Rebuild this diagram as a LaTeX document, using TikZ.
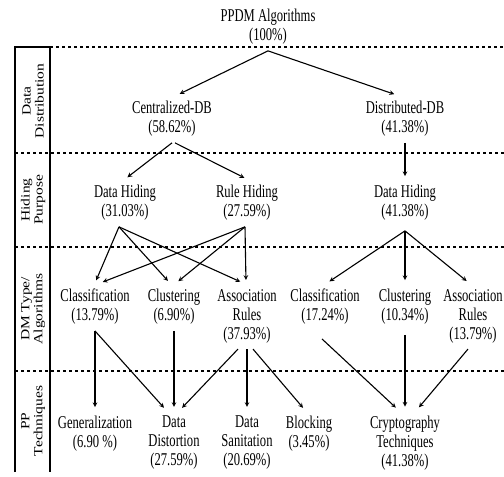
\documentclass[tikz,border=0pt]{standalone}
\usepackage{fontspec}
\setmainfont{Liberation Serif}[FakeStretch=0.7]
\newfontfamily\tierfont{Liberation Serif}[FakeStretch=1.24]
\usetikzlibrary{arrows}
\begin{document}
\fontsize{18pt}{19pt}\selectfont
\begin{tikzpicture}[x=1pt, y=-1pt,
    algo/.style={align=center, inner xsep=2pt, inner ysep=6pt},
    tier/.style={rotate=90, align=center, font=\tierfont\fontsize{12.5pt}{13pt}\selectfont},
    link/.style={->, >=stealth, line width=1.1pt, shorten >=3pt},
    level/.style={dashed, line width=1.1pt}]
    \useasboundingbox (0,0) rectangle (504,477);
    % levels
    \draw[line width=1.1pt] (15,472) -- (15,47) -- (50,47) -- (50,472);
    \draw[level] (50,47) -- (504,47);
    \draw[level] (15,153) -- (504,153);
    \draw[level] (15,247) -- (504,247);
    \draw[level] (15,371) -- (504,371);
    \node[tier] (tdist) at (33,101) {Data\\Distribution};
    \node[tier] (thide) at (33,200) {Hiding\\Purpose};
    \node[tier] (tdm) at (33,309) {DM Type/\\Algorithms};
    \node[tier] (tpp) at (33,421) {PP\\Techniques};
    % nodes
    \node[algo] (ppdm) at (268,27) {PPDM Algorithms\\(100\%)};
    \node[algo] (cdb) at (172,119) {Centralized-DB\\(58.62\%)};
    \node[algo] (ddb) at (405,119) {Distributed-DB\\(41.38\%)};
    \node[algo] (dh) at (125,203) {Data Hiding\\(31.03\%)};
    \node[algo] (rh) at (247,203) {Rule Hiding\\(27.59\%)};
    \node[algo] (ddh) at (405,203) {Data Hiding\\(41.38\%)};
    \node[algo] (cls) at (95,307) {Classification\\(13.79\%)};
    \node[algo] (clu) at (174,307) {Clustering\\(6.90\%)};
    \node[algo] (asr) at (247,316) {Association\\Rules\\(37.93\%)};
    \node[algo] (dcls) at (325,307) {Classification\\(17.24\%)};
    \node[algo] (dclu) at (405,307) {Clustering\\(10.34\%)};
    \node[algo] (dasr) at (473,316) {Association\\Rules\\(13.79\%)};
    \node[algo] (gen) at (95,434) {Generalization\\(6.90 \%)};
    \node[algo] (dist) at (174,443) {Data\\Distortion\\(27.59\%)};
    \node[algo] (san) at (247,443) {Data\\Sanitation\\(20.69\%)};
    \node[algo] (blk) at (309,434) {Blocking\\(3.45\%)};
    \node[algo] (cry) at (405,443) {Cryptography\\Techniques\\(41.38\%)};
    % links
    \draw[link] (ppdm.south) -- ([xshift=5pt]cdb.north);
    \draw[link] (ppdm.south) -- ([xshift=-8pt]ddb.north);
    \draw[link] (cdb.south) -- (dh.north);
    \draw[link] ([xshift=3pt]cdb.south) -- (rh.north);
    \draw[link] (ddb.south) -- (ddh.north);
    \draw[link] ([xshift=-6pt]dh.south) -- (cls.north);
    \draw[link] ([xshift=-6pt]dh.south) -- ([xshift=-4pt]clu.north);
    \draw[link] ([xshift=-6pt]dh.south) -- ([xshift=-4pt]asr.north);
    \draw[link] ([xshift=-2pt]rh.south) -- ([xshift=5pt]cls.north);
    \draw[link] ([xshift=-2pt]rh.south) -- ([xshift=2pt]clu.north);
    \draw[link] ([xshift=-2pt]rh.south) -- ([xshift=-1pt]asr.north);
    \draw[link] ([yshift=-4pt]ddh.south) -- ([xshift=2pt]dcls.north);
    \draw[link] ([yshift=-4pt]ddh.south) -- (dclu.north);
    \draw[link] ([yshift=-4pt]ddh.south) -- ([xshift=-4pt]dasr.north);
    \draw[link] (cls.south) -- (gen.north);
    \draw[link] (cls.south) -- ([xshift=-8pt]dist.north);
    \draw[link] (clu.south) -- (dist.north);
    \draw[link] ([xshift=-9pt]asr.south) -- ([xshift=6pt]dist.north);
    \draw[link] (asr.south) -- (san.north);
    \draw[link] ([xshift=6pt]asr.south) -- ([xshift=-4pt]blk.north);
    \draw[link] ([xshift=-3pt,yshift=-8pt]dcls.south) -- ([xshift=-7pt]cry.north);
    \draw[link] ([yshift=-4pt]dclu.south) -- (cry.north);
    \draw[link] ([xshift=-5pt]dasr.south) -- ([xshift=12pt]cry.north);
\end{tikzpicture}
\end{document}
